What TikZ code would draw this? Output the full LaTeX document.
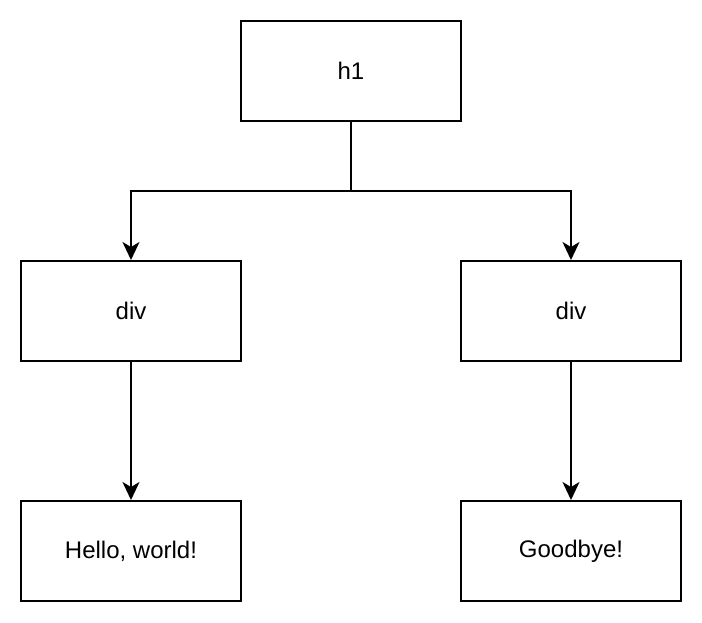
\documentclass[tikz,border=0pt]{standalone}
\usepackage{fontspec}
\setmainfont{Liberation Sans}
\usetikzlibrary{arrows.meta}
\begin{document}
\begin{tikzpicture}[x=1pt,y=-1pt,
  box/.style={draw, line width=2pt, minimum width=220pt, minimum height=100pt, inner sep=0pt, font=\fontsize{24}{28}\selectfont},
  conn/.style={line width=2pt, -{Stealth[length=18pt,width=17pt,inset=5pt]}}]
\useasboundingbox (0,0) rectangle (702,622);
\node[box] (h1) at (351,71) {h1};
\node[box] (divl) at (131,311) {div};
\node[box] (divr) at (571,311) {div};
\node[box] (hello) at (131,551) {Hello, world!};
\node[box] (bye) at (571,551) {Goodbye!};
\coordinate (j) at (351,191);
\draw[conn] (h1.south) -- (j) -| (divl.north);
\draw[conn] (j) -| (divr.north);
\draw[conn] (divl.south) -- (hello.north);
\draw[conn] (divr.south) -- (bye.north);
\end{tikzpicture}
\end{document}
